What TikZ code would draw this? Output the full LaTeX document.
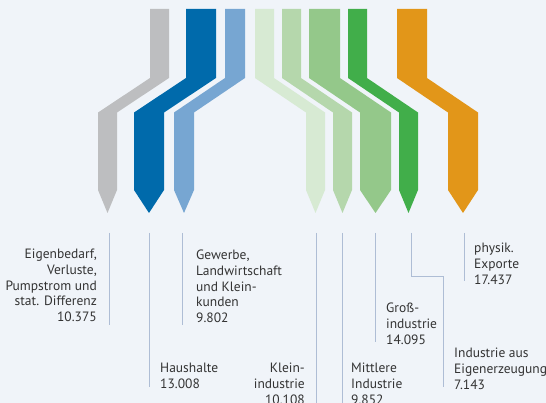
\documentclass[tikz,border=0pt]{standalone}
\usepackage{fontspec}
\setmainfont{PT Sans}
\definecolor{bg}{HTML}{F0F4F9}
\definecolor{cgrey}{HTML}{BDBEC0}
\definecolor{cblue}{HTML}{006AAB}
\definecolor{clblue}{HTML}{77A6D2}
\definecolor{cpale}{HTML}{D7EAD3}
\definecolor{clgreen}{HTML}{B5D7AC}
\definecolor{cmgreen}{HTML}{94C88A}
\definecolor{cgreen}{HTML}{41AE4A}
\definecolor{corange}{HTML}{E29619}
\definecolor{linec}{HTML}{AEBDD5}
\newcommand\flowband[5]{%
  \fill[#1] (#2,9) -- (#3,9) -- (#3,78) -- (#5,112.5) -- (#5,190) -- ({(#4+#5)/2},213) -- (#4,190) -- (#4,112.5) -- (#2,78) -- cycle;}
\begin{document}
\begin{tikzpicture}[x=1pt,y=-1pt,
  leader/.style={draw=linec,line width=0.9pt},
  lab/.style={inner sep=0pt,font=\fontsize{13.5}{15.7}\selectfont,text=black!80}]
\useasboundingbox[fill=bg] (0,0) rectangle (546,403);
\flowband{cgrey}{150}{169}{98}{117}
\flowband{cblue}{186}{216}{134}{164}
\flowband{clblue}{225}{245}{174}{194}
\flowband{cpale}{255}{274}{306}{325}
\flowband{clgreen}{282}{301}{333}{352}
\flowband{cmgreen}{309}{340}{360}{391}
\flowband{cgreen}{348}{367}{399}{418}
\flowband{corange}{397}{427}{448}{478}
% leader lines
\coordinate (t1) at (109,233); \coordinate (b1) at (109,325);
\coordinate (t2) at (149,233); \coordinate (b2) at (149,387);
\coordinate (t3) at (182,233); \coordinate (b3) at (182,325);
\coordinate (t4) at (316,233); \coordinate (b4) at (316,403);
\coordinate (t5) at (342,233); \coordinate (b5) at (342,403);
\coordinate (t6) at (375,233); \coordinate (b6) at (375,342);
\coordinate (t7) at (411,233); \coordinate (k7) at (443,276); \coordinate (b7) at (443,387);
\coordinate (t8) at (464,233); \coordinate (b8) at (464,281);
\draw[leader] (t1) -- (b1);
\draw[leader] (t2) -- (b2);
\draw[leader] (t3) -- (b3);
\draw[leader] (t4) -- (b4);
\draw[leader] (t5) -- (b5);
\draw[leader] (t6) -- (b6);
\draw[leader] (t7) |- (k7) -- (b7);
\draw[leader] (t8) -- (b8);
% labels
\node[lab,anchor=north east,align=right] (n1) at (97,249) {Eigenbedarf,\\Verluste,\\Pumpstrom und\\stat. Differenz\\10.375};
\node[lab,anchor=north west,align=left] (n2) at (160,363) {Haushalte\\13.008};
\node[lab,anchor=north west,align=left] (n3) at (196,250) {Gewerbe,\\Landwirtschaft\\und Klein-\\kunden\\9.802};
\node[lab,anchor=north east,align=right] (n4) at (305,363) {Klein-\\industrie\\10.108};
\node[lab,anchor=north west,align=left] (n5) at (351,363) {Mittlere\\Industrie\\9.852};
\node[lab,anchor=north west,align=left] (n6) at (386,303) {Groß-\\industrie\\14.095};
\node[lab,anchor=north west,align=left] (n7) at (454,348) {Industrie aus\\Eigenerzeugung\\7.143};
\node[lab,anchor=north west,align=left] (n8) at (474,243) {physik.\\Exporte\\17.437};
\end{tikzpicture}
\end{document}
